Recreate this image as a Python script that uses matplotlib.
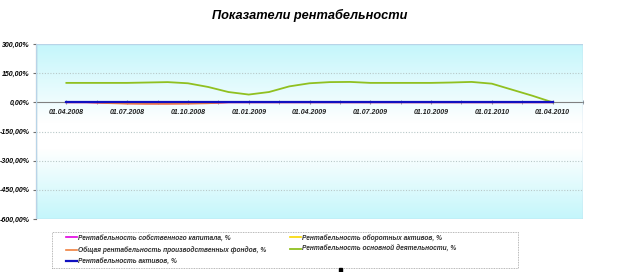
import numpy as np
import matplotlib.pyplot as plt
from matplotlib.patches import Rectangle
from matplotlib.colors import LinearSegmentedColormap

# Показатели рентабельности, помесячно с 01.04.2008 по 01.04.2010
months = list(range(25))
quarter_labels = ["01.04.2008", "01.07.2008", "01.10.2008", "01.01.2009", "01.04.2009",
                  "01.07.2009", "01.10.2009", "01.01.2010", "01.04.2010"]

osn_deyat = [100, 100, 100, 100, 102, 104, 98, 79, 53, 40, 53, 82, 98,
             104, 105, 100, 100, 100, 100, 102, 105, 96, 65, 34, 0]
sobstv_kap = [0, 0, -3, -5, -6, -6, -5, -4, 0, 0, 0, 0, 0,
              0, 0, 0, 0, 0, 0, 0, 0, 0, 0, 0, 0]
obor_akt = [0] * 25
proizv_fond = [0, 0, -4, -7, -8, -8, -7, -5, 0, 0, 0, 0, 0,
               0, 0, 0, 0, 0, 0, 0, 0, 0, 0, 0, 0]
aktivy = [0] * 25

names = ["Рентабельность собственного капитала, %",
         "Общая рентабельность производственных фондов, %",
         "Рентабельность активов, %",
         "Рентабельность оборотных активов, %",
         "Рентабельность основной деятельности, %"]

W, H = 635, 272
plt.rcParams["font.family"] = ["Liberation Sans", "DejaVu Sans"]
fig = plt.figure(figsize=(W / 100, H / 100), dpi=100)
ax = fig.add_axes([36 / W, 53 / H, 547 / W, 175 / H])

# фон с градиентом
cmap = LinearSegmentedColormap.from_list("bg", [(0, "#c4f6fb"), (0.45, "#ffffff"),
                                                (0.6, "#ffffff"), (1, "#c4f6fb")])
grad = np.linspace(0, 1, 256).reshape(-1, 1)
ax.imshow(grad, cmap=cmap, aspect="auto", extent=(-1.5, 25.5, -600, 300),
          origin="upper", zorder=0)

for v in [150, -150, -300, -450]:
    ax.axhline(v, color="#b8c8c8", linestyle=(0, (1, 1.5)), linewidth=0.8, zorder=1)

l_sk, = ax.plot(months, sobstv_kap, color="#e000e0", linewidth=1.2, zorder=3)
l_pf, = ax.plot(months, proizv_fond, color="#f08040", linewidth=1.2, zorder=3)
l_ob, = ax.plot(months, obor_akt, color="#f8d800", linewidth=1.2, zorder=3)
l_od, = ax.plot(months, osn_deyat, color="#90c020", linewidth=1.3, zorder=4)
l_ak, = ax.plot(months, aktivy, color="#1010c0", linewidth=1.6, zorder=5)

ax.spines["bottom"].set_position(("data", 0))
ax.spines["bottom"].set_color("#808080")
ax.spines["left"].set_color("#707070")
ax.spines["top"].set_visible(False)
ax.spines["right"].set_visible(False)
ax.add_patch(Rectangle((0, 0), 1, 1, transform=ax.transAxes, fill=False,
                       edgecolor="#b8d4e8", linewidth=1, zorder=6))

ax.set_xlim(-1.5, 25.5)
ax.set_ylim(-600, 300)
ax.set_yticks(range(-600, 301, 150))
ax.set_yticklabels([f"{v:.2f}".replace(".", ",") + "%" for v in range(-600, 301, 150)],
                   fontsize=5, fontweight="bold", fontstyle="italic")
ax.set_xticks(range(0, 25, 3))
ax.set_xticklabels(quarter_labels, fontsize=5, fontweight="bold", fontstyle="italic",
                   color="#202020")
ax.set_xticks(np.arange(-1.5, 25.6, 1.5), minor=True)
ax.tick_params(axis="x", which="both", direction="inout", length=3, color="#8090a0",
               pad=3)
ax.tick_params(axis="y", length=2.5, color="#707070", pad=2)

fig.text(310 / W, 1 - 15 / H, "Показатели рентабельности", ha="center", va="center",
         fontsize=9.2, fontweight="bold", fontstyle="italic")

# легенда: рамка отдельно, как в Excel
fig.patches.append(Rectangle((52 / W, 4 / H), 466 / W, 36 / H, transform=fig.transFigure,
                             fill=False, edgecolor="#a0a0a0", linewidth=0.6,
                             linestyle=(0, (1, 1))))
leg = fig.legend([l_sk, l_pf, l_ak, l_ob, l_od], names, ncol=2,
                 loc="upper left", bbox_to_anchor=(66 / W, 1 - 234 / H),
                 prop={"size": 4.75, "style": "italic", "weight": "bold"},
                 frameon=False, handlelength=1.6, handletextpad=0.25,
                 columnspacing=3.6, labelspacing=0.67, borderpad=0, borderaxespad=0)
for t in leg.get_texts():
    t.set_color("#303030")

fig.patches.append(Rectangle((339 / W, 1 - 272 / H), 3 / W, 4 / H,
                             transform=fig.transFigure, color="black"))

fig.savefig("out.png", dpi=100)
